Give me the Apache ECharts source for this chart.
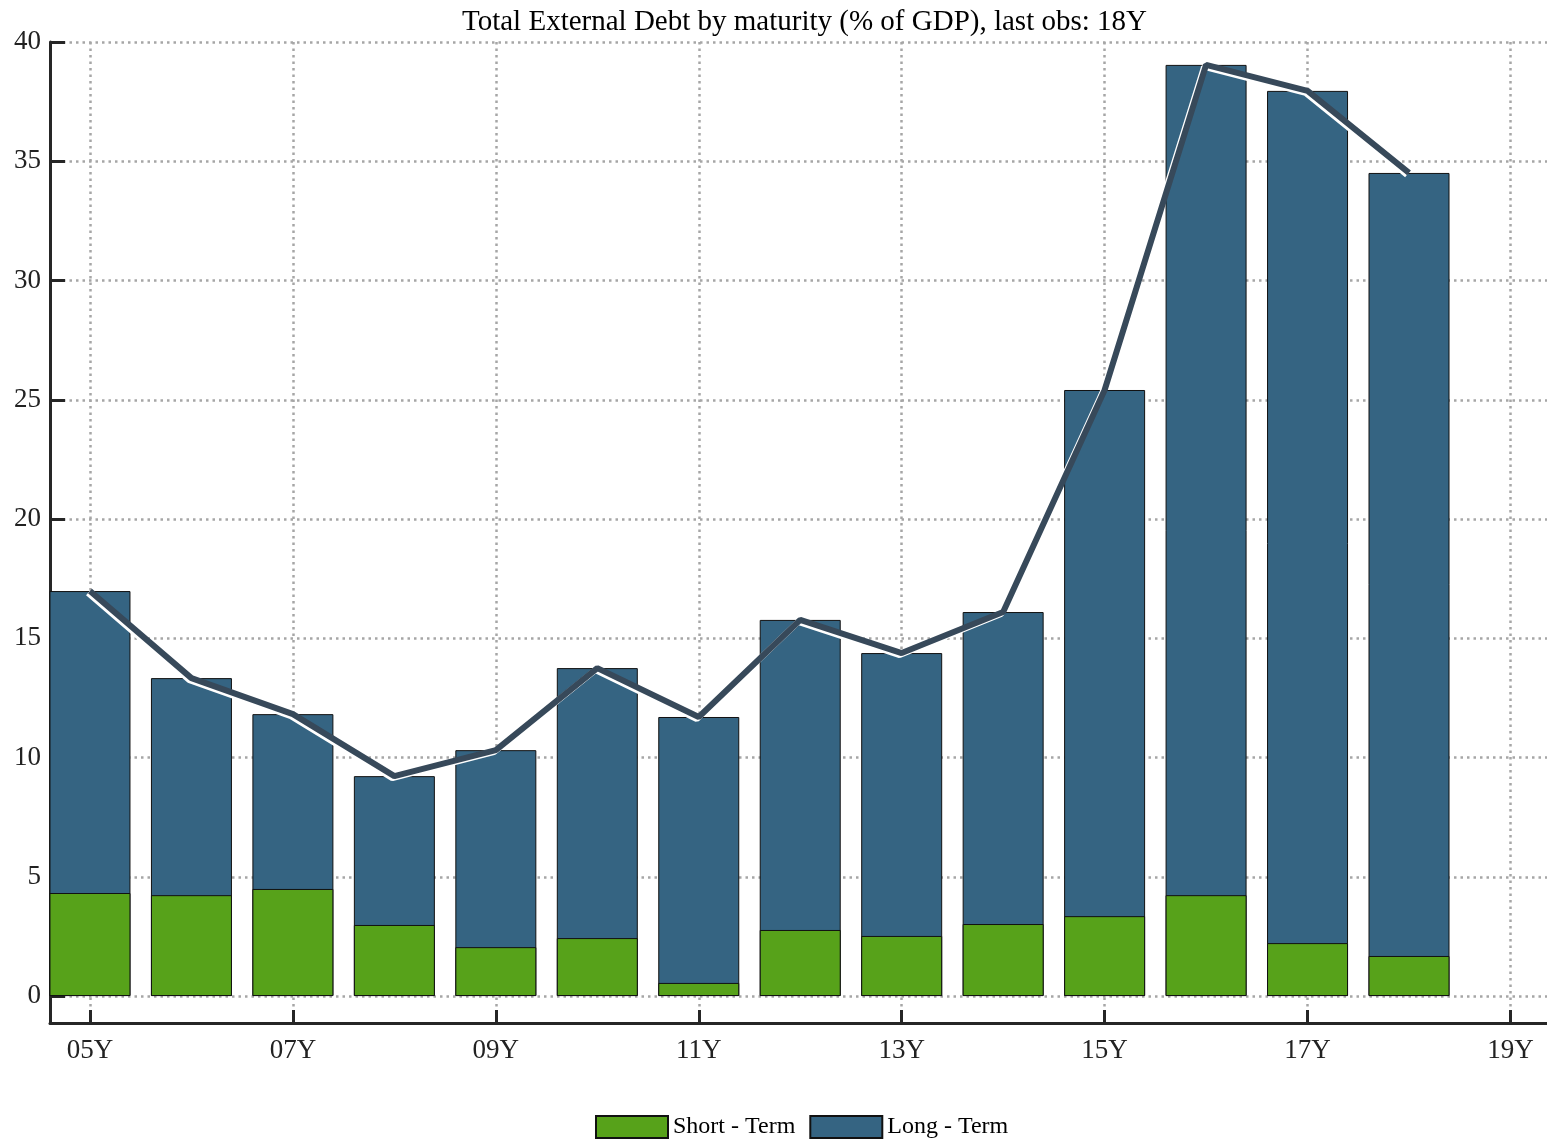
<!DOCTYPE html>
<html>
<head>
<meta charset="utf-8">
<script src="https://cdn.jsdelivr.net/npm/echarts@6/dist/echarts.min.js"></script>
<style>
  html, body { margin: 0; padding: 0; background: #fff; }
  #chart { width: 1547px; height: 1144px; }
</style>
</head>
<body>
<div id="chart"></div>
<script>
// years as numbers (05Y = 5)
var years = [5, 6, 7, 8, 9, 10, 11, 12, 13, 14, 15, 16, 17, 18];
var shortTerm = [4.32, 4.23, 4.49, 2.98, 2.05, 2.43, 0.55, 2.77, 2.52, 3.02, 3.35, 4.23, 2.22, 1.68];
var total = [16.98, 13.33, 11.82, 9.22, 10.31, 13.75, 11.70, 15.77, 14.38, 16.10, 25.41, 39.04, 37.95, 34.51];
var xTicks = [5, 7, 9, 11, 13, 15, 17, 19];
var yTicks = [0, 5, 10, 15, 20, 25, 30, 35, 40];

var serif = '"Liberation Serif", "DejaVu Serif", serif';
var gridLine = { show: true, lineStyle: { color: '#a6a6a6', width: 2.5, type: [2.5, 4] } };
var axisLine = { show: true, onZero: false, lineStyle: { color: '#262626', width: 3 } };

function pairs(vals) {
    return years.map(function (y, i) { return [y, vals[i]]; });
}

var chart = echarts.init(document.getElementById('chart'));

// value axis can't stack, so the long-term bar spans 0..total and the
// short-term bar is drawn over its bottom part
var option = {
    animation: false,
    backgroundColor: '#fff',
    title: {
        text: 'Total External Debt by maturity (% of GDP), last obs: 18Y',
        left: 457,
        top: 3,
        textStyle: { fontFamily: serif, fontSize: 29, fontWeight: 'normal', color: '#000' }
    },
    legend: {
        bottom: 0,
        left: 590,
        icon: 'rect',
        itemWidth: 72,
        itemHeight: 22,
        itemGap: 14,
        textStyle: { fontFamily: serif, fontSize: 24, color: '#000' },
        data: ['Short - Term', 'Long - Term']
    },
    grid: { left: 50, right: 0, top: 42, bottom: 121, containLabel: false },
    xAxis: {
        type: 'value',
        min: 4.606,
        max: 19.36,
        axisLine: axisLine,
        axisTick: { show: true, inside: true, length: 13, customValues: xTicks, lineStyle: { color: '#262626', width: 3 } },
        axisLabel: {
            customValues: xTicks,
            margin: 14,
            fontFamily: serif, fontSize: 27, color: '#222',
            formatter: function (v) { return (v < 10 ? '0' : '') + v + 'Y'; }
        },
        splitLine: gridLine
    },
    yAxis: {
        type: 'value',
        min: -1.13,
        max: 40,
        axisLine: axisLine,
        axisTick: { show: true, inside: true, length: 15, customValues: yTicks, lineStyle: { color: '#262626', width: 3 } },
        axisLabel: { customValues: yTicks, margin: 9, fontFamily: serif, fontSize: 27, color: '#222' },
        splitLine: gridLine
    },
    series: [
        {
            name: 'Long - Term',
            type: 'bar',
            barWidth: 81,
            barGap: '-100%',
            itemStyle: { color: '#356482', borderColor: '#111', borderWidth: 1 },
            data: pairs(total)
        },
        {
            name: 'Short - Term',
            type: 'bar',
            barWidth: 81,
            barGap: '-100%',
            itemStyle: { color: '#57a21a', borderColor: '#111', borderWidth: 1 },
            data: pairs(shortTerm)
        },
        {
            name: 'Total',
            type: 'line',
            symbol: 'none',
            z: 5,
            lineStyle: {
                color: '#37495a', width: 6,
                shadowColor: '#ffffff', shadowBlur: 0.5, shadowOffsetX: -2, shadowOffsetY: 2
            },
            data: pairs(total)
        }
    ]
};

chart.setOption(option);
window.onresize = function () { chart.resize(); };
</script>
</body>
</html>
